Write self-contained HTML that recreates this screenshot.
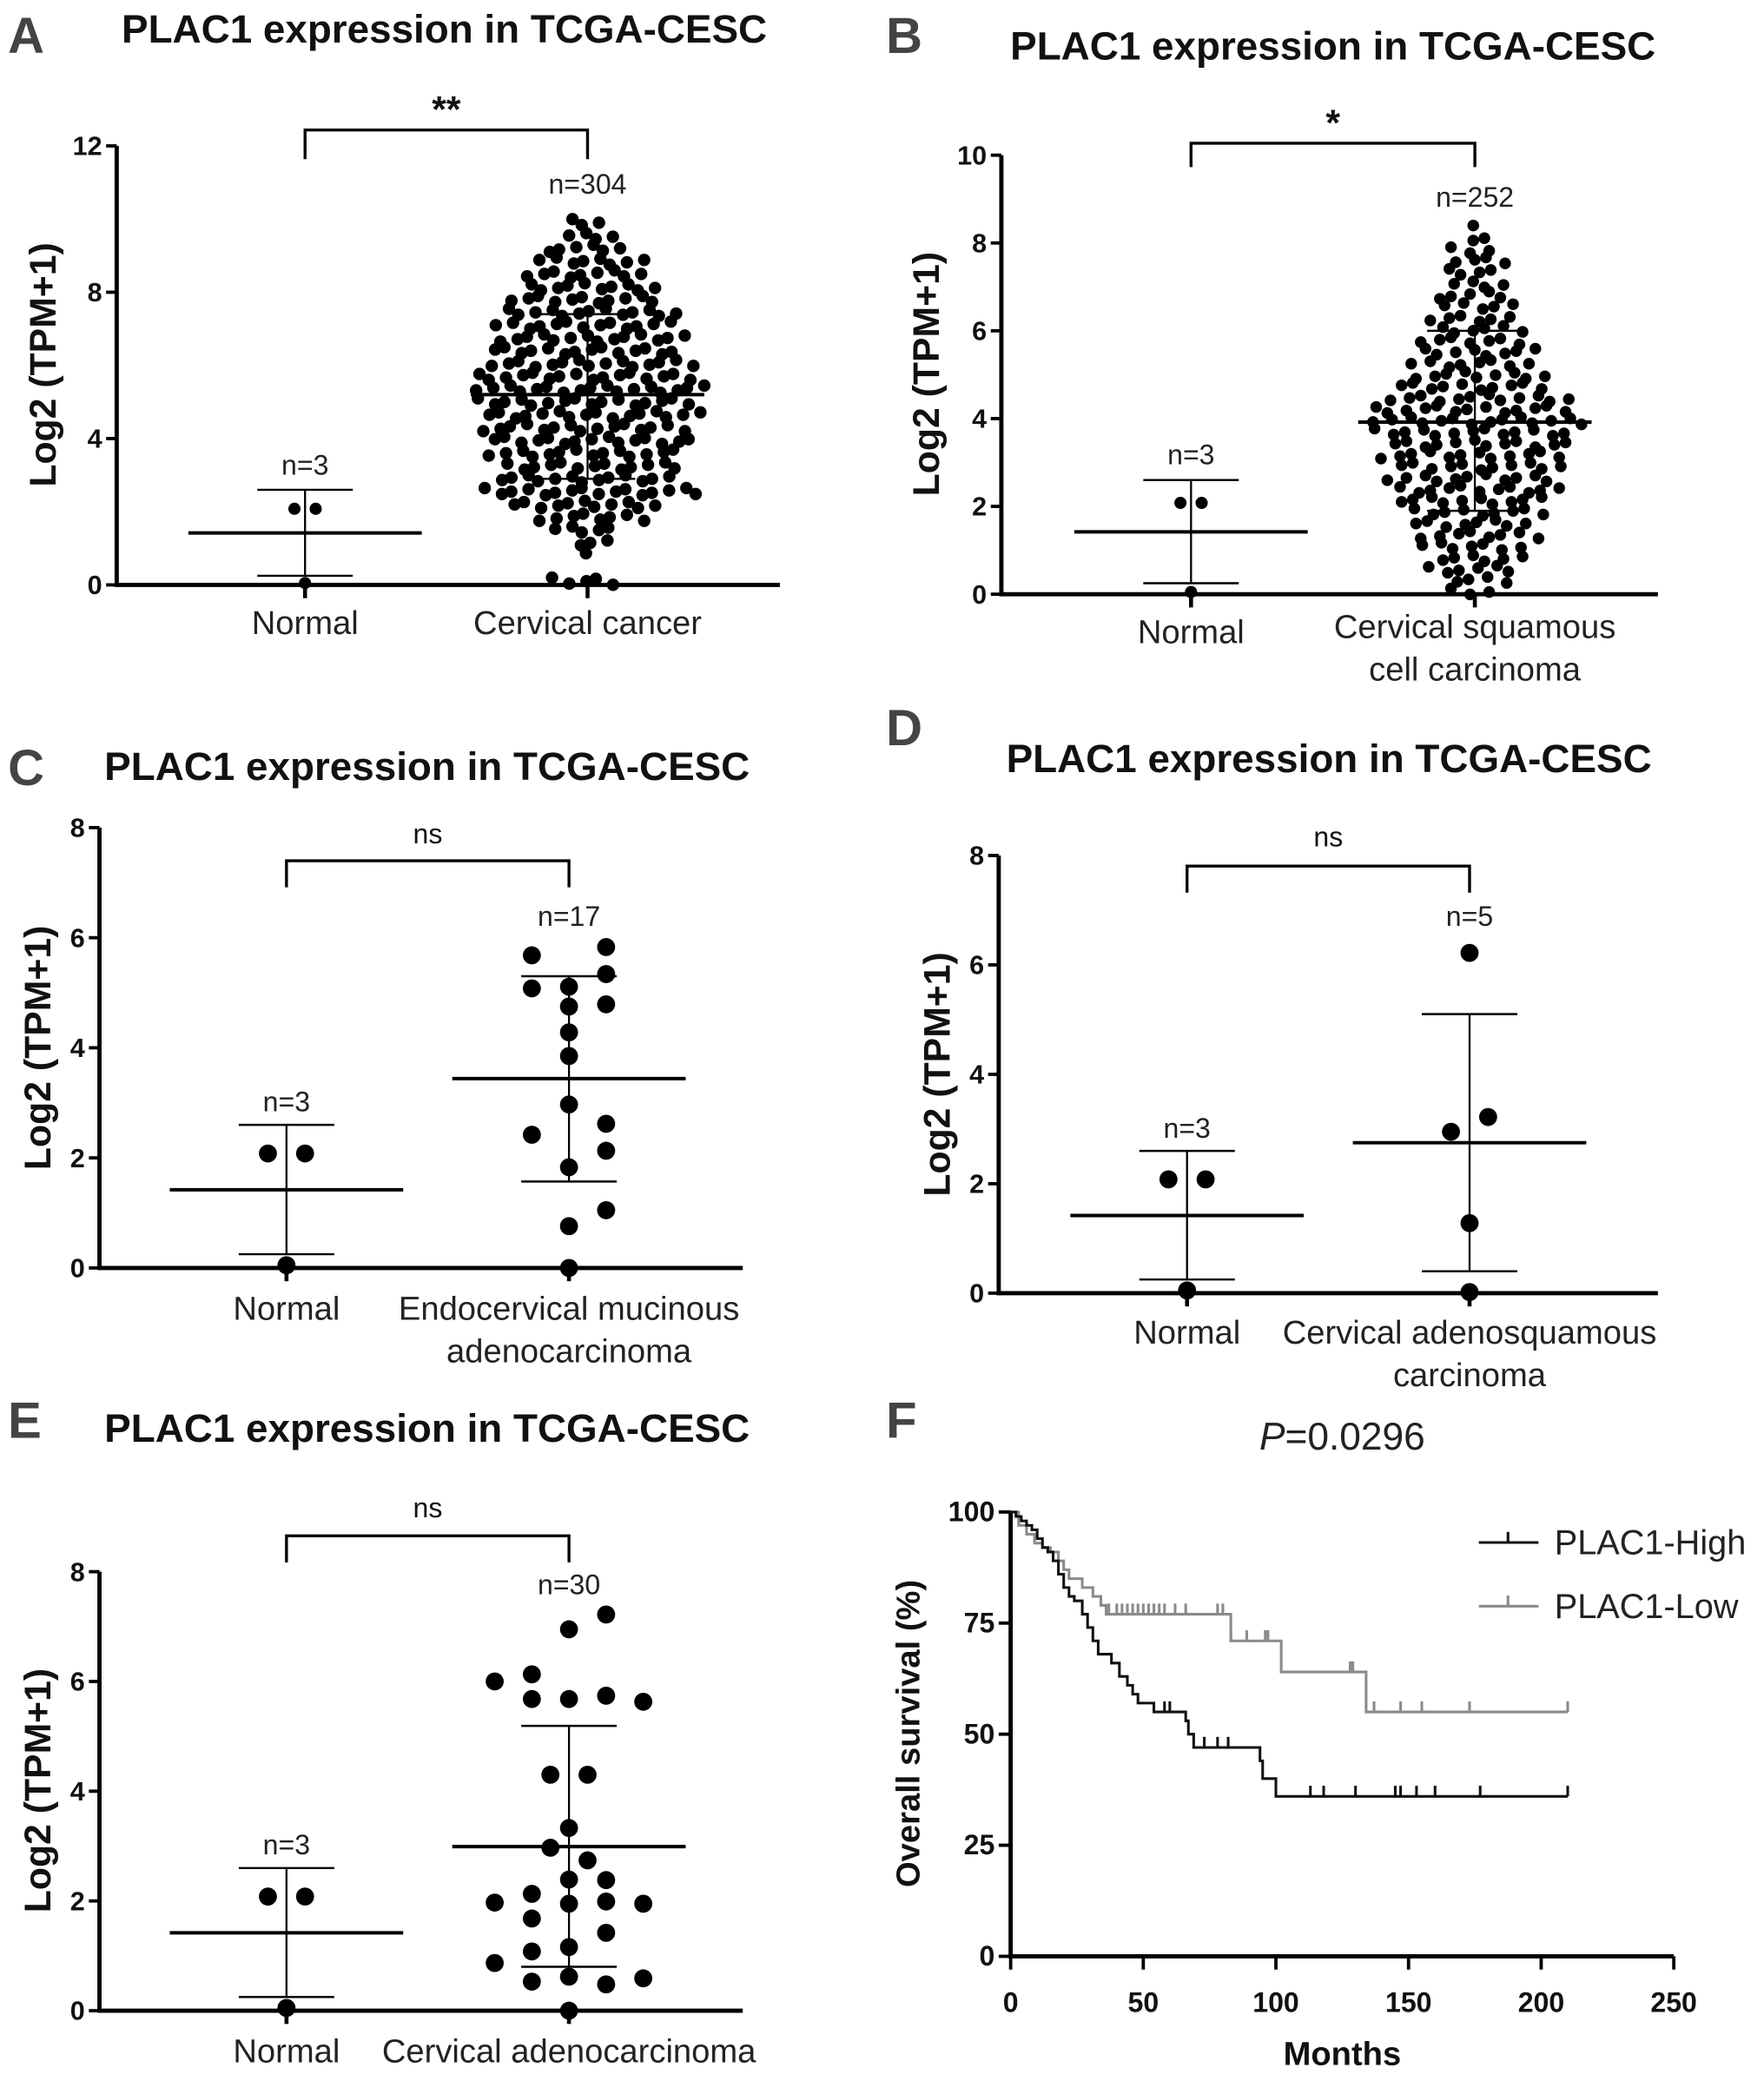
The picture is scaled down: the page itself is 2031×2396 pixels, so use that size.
<!DOCTYPE html>
<html><head><meta charset="utf-8"><style>
html,body{margin:0;padding:0;background:#fff}
svg{display:block}
text{font-family:"Liberation Sans",Arial,sans-serif}
</style></head><body>
<svg id="fig" xmlns="http://www.w3.org/2000/svg" width="2031" height="2396" viewBox="0 0 1330 1569" preserveAspectRatio="none"></svg>
<script>
// ---- Data ----
// Panel A: beeswarm rows (value, count) for Cervical cancer
const aRowVals = [0.1,0.45,0.8,1.15,1.5,1.85,2.2,2.55,2.9,3.25,3.6,3.95,4.3,4.65,5.0,5.35,5.7,6.05,6.4,6.75,7.1,7.45,7.8,8.15,8.5,8.85,9.2,9.55,9.9];
const aRowCounts = [5,0,1,3,5,8,11,16,13,13,14,15,15,16,16,17,16,15,14,14,13,13,11,10,9,8,6,4,3];
// Panel B: beeswarm rows for CSCC
const bRowVals = [0.05,0.31,0.57,0.83,1.09,1.35,1.61,1.87,2.13,2.39,2.65,2.91,3.17,3.43,3.69,3.95,4.21,4.47,4.73,4.99,5.25,5.51,5.77,6.03,6.29,6.55,6.81,7.07,7.33,7.59,7.85,8.11,8.37];
const bRowCounts = [3,4,6,6,7,8,8,9,10,11,11,11,12,12,13,14,13,12,10,9,8,8,7,6,6,5,5,4,4,4,3,2,1];
// Normal group (shared)
const normVals = [2.08,2.08,0.05];
const normCols = [-0.5,0.5,0];
const normStats = [1.42,2.6,0.25]; // mean, upper SD, lower SD
// Panel C: Endocervical mucinous adenocarcinoma
const cVals = [5.68,5.83,5.34,5.08,5.11,4.75,4.79,4.28,3.85,2.97,2.62,2.42,2.13,1.83,1.05,0.76,0];
const cCols = [-1,1,1,-1,0,0,1,0,0,0,1,-1,1,0,1,0,0];
const cStats = [3.44,5.3,1.57];
// Panel D: Cervical adenosquamous carcinoma
const dVals = [6.22,2.95,3.22,1.28,0.02];
const dCols = [0,-0.5,0.5,0,0];
const dStats = [2.75,5.1,0.4];
// Panel E: Cervical adenocarcinoma
const eVals = [7.22,6.95,6.0,6.13,5.68,5.68,5.74,5.63,4.3,4.3,3.33,2.97,2.74,2.39,2.38,1.97,2.13,1.95,1.99,1.95,1.68,1.42,1.08,1.16,0.87,0.53,0.62,0.48,0.59,0];
const eCols = [1,0,-2,-1,-1,0,1,2,-0.5,0.5,0,-0.5,0.5,0,1,-2,-1,0,1,2,-1,1,-1,0,-2,-1,0,1,2,0];
const eStats = [2.99,5.19,0.8];
const aStats = [5.2,7.4,2.9];
const bStats = [3.92,6.0,1.9];
// Panel F: Kaplan-Meier
const highT = [0,2,4,6,8,10,12,14,16,18,20,22,24,27,29,31,33,38,41,44,46,48,54,66,67,69,94,95,100];
const highS = [100,99,98,97,96,94,92,91,89,86,83,81,80,77,74,71,68,66,63,61,59,57,55,53,50,47,44,40,36];
const highCensor = [58,60,73,78,82,113,118,130,145,147,153,160,177,210];
const lowT = [0,3,6,9,12,15,18,20,22,27,31,34,36,83,102,134];
const lowS = [100,97,95,93,92,91,89,87,85,83,81,79,77,71,64,55];
const lowCensor = [37,40,42,44,46,48,50,52,54,56,58,62,66,78,80,83,89,96,97,128,129,137,147,155,173,210];
const kmXTicks = [0,50,100,150,200,250];
const kmYTicks = [0,25,50,75,100];

const NS='http://www.w3.org/2000/svg';
const svg=document.getElementById('fig');
function mk(tag,attrs,name,parent){
  const el=document.createElementNS(NS,tag);
  for(const k in attrs) el.setAttribute(k,attrs[k]);
  
  
  (parent||svg).appendChild(el);
  return el;
}
function txt(x,y,s,size,opts,name,parent){
  const o=Object.assign({x:x,y:y,'font-size':size,fill:'#111'},opts||{});
  const t=mk('text',o,name,parent);
  t.textContent=s;
  return t;
}

function panel(p){
  const g=mk('g',{},'panel-'+p.id);
  const ys=v=>p.y0-(v/p.ymax)*(p.y0-p.yTop);
  txt(p.lx,p.ly,p.id,38,{'font-weight':'bold',fill:'#444'},'panel-label',g);
  txt(p.tx,p.ty,'PLAC1 expression in TCGA-CESC',30,{'font-weight':'bold','text-anchor':'middle'},'chart-title',g);
  mk('line',{x1:p.x0,y1:p.yTop,x2:p.x0,y2:p.y0+1.5,stroke:'#000','stroke-width':3.2},'y-axis',g);
  mk('line',{x1:p.x0-1.5,y1:p.y0,x2:p.xEnd,y2:p.y0,stroke:'#000','stroke-width':3.2},'x-axis',g);
  p.ticks.forEach(t=>{
    mk('line',{x1:p.x0-8,y1:ys(t),x2:p.x0,y2:ys(t),stroke:'#000','stroke-width':2.5},'y-tick',g);
    txt(p.x0-11,ys(t)+7,String(t),20,{'font-weight':'bold','text-anchor':'end'},'y-tick-label',g);
  });
  p.cats.forEach(c=>mk('line',{x1:c,y1:p.y0,x2:c,y2:p.y0+10,stroke:'#000','stroke-width':3},'x-tick',g));
  txt(0,0,'Log2 (TPM+1)',28,{'font-weight':'bold','text-anchor':'middle',transform:`translate(${p.ytx},${p.yty}) rotate(-90)`},'y-axis-title',g);
  txt(p.cats[0],p.catY[0],'Normal',25,{'text-anchor':'middle',fill:'#222'},'x-category-normal',g);
  p.catLines.forEach((s,i)=>txt(p.cats[1],p.catY[1]+i*32,s,25,{'text-anchor':'middle',fill:'#222'},'x-category-tumor',g));
  mk('path',{d:`M${p.cats[0]},${p.bY2} V${p.bY} H${p.cats[1]} V${p.bY2}`,fill:'none',stroke:'#000','stroke-width':2.2},'significance-bracket',g);
  txt((p.cats[0]+p.cats[1])/2,p.sigY,p.sig,p.sig==='ns'?21:28,{'text-anchor':'middle','font-weight':p.sig==='ns'?'normal':'bold'},'significance-label',g);
  txt(p.cats[0],p.n0Y,'n=3',21,{'text-anchor':'middle',fill:'#222'},'n-label-normal',g);
  txt(p.cats[1],p.n1Y,p.nLabel,21,{'text-anchor':'middle',fill:'#222'},'n-label-tumor',g);
  function stats(cx,st,hw,name){
    mk('line',{x1:cx,y1:ys(st[1]),x2:cx,y2:ys(st[2]),stroke:'#000','stroke-width':1.5},name+'-sd-line',g);
    mk('line',{x1:cx-36,y1:ys(st[1]),x2:cx+36,y2:ys(st[1]),stroke:'#000','stroke-width':1.6},name+'-sd-upper',g);
    mk('line',{x1:cx-36,y1:ys(st[2]),x2:cx+36,y2:ys(st[2]),stroke:'#000','stroke-width':1.6},name+'-sd-lower',g);
    mk('line',{x1:cx-hw,y1:ys(st[0]),x2:cx+hw,y2:ys(st[0]),stroke:'#000','stroke-width':2.6},name+'-mean-line',g);
  }
  normVals.forEach((v,i)=>mk('circle',{cx:p.cats[0]+normCols[i]*p.nColW,cy:ys(v),r:p.nR,fill:'#000'},'point-normal',g));
  stats(p.cats[0],normStats,88,'normal');
  if(p.rowVals){
    p.rowVals.forEach((v,ri)=>{
      const n=p.rowCounts[ri];
      for(let k=0;k<n;k++){
        const jx=((k*7+ri*3)%5-2)*1.2;
        const jy=((k*5+ri*11)%7-3)*0.9;
        const off=(k-(n-1)/2)*p.sp + ((ri%2)?p.sp*0.3:-p.sp*0.3)*(n>1?1:0)+jx;
        mk('circle',{cx:p.cats[1]+off,cy:ys(v)+jy,r:p.r,fill:'#000'},'point-tumor',g);
      }
    });
  } else {
    p.vals.forEach((v,i)=>mk('circle',{cx:p.cats[1]+p.cols[i]*28,cy:ys(v),r:6.8,fill:'#000'},'point-tumor',g));
  }
  stats(p.cats[1],p.st,88,'tumor');
}

panel({id:'A',x0:88,xEnd:588,y0:441,yTop:110,ymax:12,ticks:[0,4,8,12],cats:[230,443],lx:6,ly:40,tx:335,ty:32,
  ytx:42,yty:275,catY:[478,478],catLines:['Cervical cancer'],bY:98,bY2:120,sig:'**',sigY:92,n0Y:358,n1Y:146,nLabel:'n=304',
  nR:4.6,nColW:16,rowVals:aRowVals,rowCounts:aRowCounts,r:4.7,sp:10.6,st:aStats});
panel({id:'B',x0:755,xEnd:1250,y0:448,yTop:117,ymax:10,ticks:[0,2,4,6,8,10],cats:[898,1112],lx:668,ly:40,tx:1005,ty:45,
  ytx:708,yty:282,catY:[485,481],catLines:['Cervical squamous','cell carcinoma'],bY:108,bY2:126,sig:'*',sigY:102,n0Y:350,n1Y:156,nLabel:'n=252',
  nR:4.6,nColW:16,rowVals:bRowVals,rowCounts:bRowCounts,r:4.4,sp:12,st:bStats});
panel({id:'C',x0:75,xEnd:560,y0:956,yTop:624,ymax:8,ticks:[0,2,4,6,8],cats:[216,429],lx:6,ly:592,tx:322,ty:588,
  ytx:38,yty:790,catY:[995,995],catLines:['Endocervical mucinous','adenocarcinoma'],bY:649,bY2:669,sig:'ns',sigY:636,n0Y:838,n1Y:698,nLabel:'n=17',
  nR:6.8,nColW:28,vals:cVals,cols:cCols,st:cStats});
panel({id:'D',x0:753,xEnd:1250,y0:975,yTop:645,ymax:8,ticks:[0,2,4,6,8],cats:[895,1108],lx:668,ly:562,tx:1002,ty:582,
  ytx:716,yty:810,catY:[1013,1013],catLines:['Cervical adenosquamous','carcinoma'],bY:653,bY2:673,sig:'ns',sigY:638,n0Y:858,n1Y:698,nLabel:'n=5',
  nR:6.8,nColW:28,vals:dVals,cols:dCols,st:dStats});
panel({id:'E',x0:75,xEnd:560,y0:1516,yTop:1185,ymax:8,ticks:[0,2,4,6,8],cats:[216,429],lx:6,ly:1084,tx:322,ty:1087,
  ytx:38,yty:1350,catY:[1555,1555],catLines:['Cervical adenocarcinoma'],bY:1158,bY2:1178,sig:'ns',sigY:1144,n0Y:1398,n1Y:1202,nLabel:'n=30',
  nR:6.8,nColW:28,vals:eVals,cols:eCols,st:eStats});

// ---- Panel F ----
(function(){
  const g=mk('g',{},'panel-F');
  const X0=762,X1=1262,Y0=1475,Y1=1140;
  const xs=t=>X0+t/250*(X1-X0);
  const ys=s=>Y0-s/100*(Y0-Y1);
  txt(668,1084,'F',38,{'font-weight':'bold',fill:'#444'},'panel-label',g);
  const pt=txt(1012,1093,'',29,{'text-anchor':'middle',fill:'#222'},'p-value-label',g);
  const ts=document.createElementNS(NS,'tspan');ts.setAttribute('font-style','italic');ts.textContent='P';pt.appendChild(ts);
  const ts2=document.createElementNS(NS,'tspan');ts2.textContent='=0.0296';pt.appendChild(ts2);
  mk('line',{x1:X0,y1:Y1,x2:X0,y2:Y0+1.5,stroke:'#000','stroke-width':3.2},'y-axis',g);
  mk('line',{x1:X0-1.5,y1:Y0,x2:X1,y2:Y0,stroke:'#000','stroke-width':3.2},'x-axis',g);
  kmYTicks.forEach(t=>{
    mk('line',{x1:X0-9,y1:ys(t),x2:X0,y2:ys(t),stroke:'#000','stroke-width':2.5},'y-tick',g);
    txt(X0-12,ys(t)+7,String(t),21,{'font-weight':'bold','text-anchor':'end'},'y-tick-label',g);
  });
  kmXTicks.forEach(t=>{
    mk('line',{x1:xs(t),y1:Y0,x2:xs(t),y2:Y0+10,stroke:'#000','stroke-width':2.5},'x-tick',g);
    txt(xs(t),Y0+42,String(t),21,{'font-weight':'bold','text-anchor':'middle'},'x-tick-label',g);
  });
  txt(1012,1557,'Months',25,{'font-weight':'bold','text-anchor':'middle'},'x-axis-title',g);
  txt(0,0,'Overall survival (%)',25,{'font-weight':'bold','text-anchor':'middle',transform:'translate(693,1307) rotate(-90)'},'y-axis-title',g);
  function km(T,S,C,color,name){
    let d=`M${xs(T[0])},${ys(S[0])}`;
    for(let i=1;i<T.length;i++){d+=` H${xs(T[i])} V${ys(S[i])}`;}
    d+=` H${xs(210)}`;
    mk('path',{d:d,fill:'none',stroke:color,'stroke-width':2},name+'-curve',g);
    C.forEach(c=>{
      let s=S[0];for(let i=0;i<T.length;i++){if(T[i]<=c)s=S[i];}
      mk('line',{x1:xs(c),y1:ys(s),x2:xs(c),y2:ys(s)-8,stroke:color,'stroke-width':2},name+'-censor',g);
    });
  }
  km(lowT,lowS,lowCensor,'#8a8a8a','plac1-low');
  km(highT,highS,highCensor,'#111','plac1-high');
  mk('line',{x1:1115,y1:1163,x2:1160,y2:1163,stroke:'#111','stroke-width':2},'legend-high-swatch',g);
  mk('line',{x1:1137,y1:1163,x2:1137,y2:1155,stroke:'#111','stroke-width':2},'legend-high-tick',g);
  txt(1172,1172,'PLAC1-High',26,{fill:'#222'},'legend-high-label',g);
  mk('line',{x1:1115,y1:1211,x2:1160,y2:1211,stroke:'#8a8a8a','stroke-width':2},'legend-low-swatch',g);
  mk('line',{x1:1137,y1:1211,x2:1137,y2:1203,stroke:'#8a8a8a','stroke-width':2},'legend-low-tick',g);
  txt(1172,1220,'PLAC1-Low',26,{fill:'#222'},'legend-low-label',g);
})();
</script>
</body></html>
